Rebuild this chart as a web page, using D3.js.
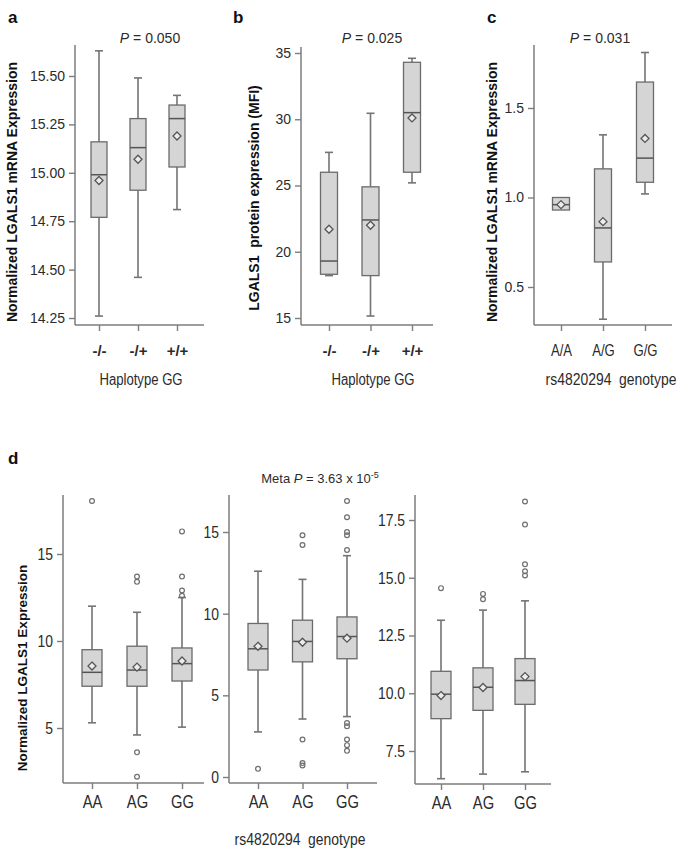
<!DOCTYPE html>
<html><head><meta charset="utf-8">
<script src="https://cdn.jsdelivr.net/npm/d3@7"></script>
<style>body{margin:0;background:#fff;} svg{display:block;}</style>
</head><body>
<script>
// ---------------- DATA ----------------
const catsHaplo = ["-/-", "-/+", "+/+"];
const catsC = ["A/A", "A/G", "G/G"];
const catsD = ["AA", "AG", "GG"];
// each row: [whiskerLow, Q1, median, Q3, whiskerHigh, mean]
const statsA = [[14.26,14.77,14.99,15.16,15.63,14.96],[14.46,14.91,15.13,15.28,15.49,15.07],[14.81,15.03,15.28,15.35,15.40,15.19]];
const statsB = [[18.2,18.3,19.3,26.0,27.5,21.7],[15.15,18.2,22.4,24.9,30.45,22.0],[25.2,26.0,30.5,34.3,34.6,30.1]];
const statsC = [[0.93,0.93,0.96,1.0,1.0,0.96],[0.32,0.64,0.83,1.16,1.35,0.865],[1.02,1.085,1.22,1.645,1.81,1.33]];
const statsD1 = [[5.3,7.4,8.2,9.5,12.0,8.56],[4.6,7.4,8.33,9.7,11.65,8.5],[5.05,7.7,8.7,9.6,12.5,8.85]];
const outliersD1 = [[18.05],[13.7,13.4,3.6,2.2],[16.3,13.7,12.9,12.6]];
const statsD2 = [[2.76,6.55,7.85,9.4,12.6,8.0],[3.55,7.05,8.3,9.6,12.1,8.25],[3.7,7.24,8.6,9.8,13.55,8.5]];
const outliersD2 = [[0.5],[14.8,14.2,2.3,0.85,0.7],[16.9,15.9,15.0,14.8,13.9,3.3,3.1,2.3,1.95,1.6]];
const statsD3 = [[6.3,8.9,9.96,10.95,13.16,9.9],[6.5,9.26,10.26,11.1,13.6,10.25],[6.6,9.52,10.55,11.5,14.0,10.72]];
const outliersD3 = [[14.55],[14.3,14.07],[18.3,17.3,15.58,15.28,15.1]];
const ticksA = [14.25,14.5,14.75,15.0,15.25,15.5];
const ticksB = [15,20,25,30,35];
const ticksC = [0.5,1.0,1.5];
const ticksD1 = [5,10,15];
const ticksD2 = [0,5,10,15];
const ticksD3 = [7.5,10,12.5,15,17.5];
const pValues = ["0.050","0.025","0.031"];
// ---------------------------------------

const W = 685, H = 851;
const svg = d3.select("body").append("svg").attr("width", W).attr("height", H);
const axisColor = "#7d7d7d", textColor = "#2b2b2b";
const SANS = "'Liberation Sans', Arial, sans-serif";

// detect narrow font
const probe1 = svg.append("text").style("font-family","'Liberation Sans Narrow', monospace").style("font-size","20px").text("Haplotype GG");
const probe2 = svg.append("text").style("font-family","monospace").style("font-size","20px").text("Haplotype GG");
const hasNarrow = Math.abs(probe1.node().getComputedTextLength() - probe2.node().getComputedTextLength()) > 0.5;
probe1.remove(); probe2.remove();
const NARROW = hasNarrow ? "'Liberation Sans Narrow', sans-serif" : SANS;
const narrowScale = hasNarrow ? 1 : 0.82;

function narrowText(sel) {
  sel.style("font-family", NARROW);
  if (narrowScale !== 1) {
    sel.each(function(){
      const t = d3.select(this);
      const x = +t.attr("x") || 0;
      t.attr("transform", `translate(${x*(1-narrowScale)},0) scale(${narrowScale},1)`);
    });
  }
  return sel;
}

function panel(cfg) {
  const g = svg.append("g");
  const y = d3.scaleLinear().domain(cfg.anchorV).range(cfg.anchorY);
  const x = d3.scalePoint().domain(cfg.cats).range(cfg.xRange);

  // y axis
  const ay = g.append("g").attr("transform", `translate(${cfg.axisX},0)`)
    .call(d3.axisLeft(y).tickValues(cfg.ticks).tickFormat(d3.format(cfg.fmt)).tickSize(6).tickPadding(4));
  ay.select(".domain").remove();
  ay.selectAll("line").attr("stroke", axisColor).attr("stroke-width", 1.4);
  const yt = ay.selectAll("text").attr("fill", textColor).style("font-size", cfg.yTickSize + "px");
  if (cfg.yTickNarrow) narrowText(yt.style("font-weight", "normal")); else yt.style("font-family", SANS);
  g.append("line").attr("x1", cfg.axisX).attr("x2", cfg.axisX).attr("y1", cfg.top).attr("y2", cfg.bottom)
    .attr("stroke", axisColor).attr("stroke-width", 1.5);

  // x axis
  const ax = g.append("g").attr("transform", `translate(0,${cfg.bottom})`)
    .call(d3.axisBottom(x).tickSize(6).tickPadding(cfg.xPad));
  ax.select(".domain").remove();
  ax.selectAll("line").attr("stroke", axisColor).attr("stroke-width", 1.4);
  const xt = ax.selectAll("text").attr("fill", textColor).style("font-size", cfg.xTickSize + "px")
    .style("font-weight", cfg.xTickBold ? "bold" : "normal");
  if (cfg.xTickNarrow) narrowText(xt); else xt.style("font-family", SANS);
  g.append("line").attr("x1", cfg.axisX).attr("x2", cfg.xEnd).attr("y1", cfg.bottom).attr("y2", cfg.bottom)
    .attr("stroke", axisColor).attr("stroke-width", 1.5);

  const bw = cfg.boxW, cw = 8;
  cfg.stats.forEach((s, i) => {
    const cx = x(cfg.cats[i]);
    const [lo, q1, med, q3, hi, mean] = s;
    const wl = { stroke: "#747474", "stroke-width": 1.6 };
    const line = (x1, y1, x2, y2, st) => {
      const l = g.append("line").attr("x1", x1).attr("y1", y1).attr("x2", x2).attr("y2", y2);
      Object.entries(st).forEach(([k, v]) => l.attr(k, v));
    };
    if (hi > q3) { line(cx, y(q3), cx, y(hi), wl); line(cx - cw/2, y(hi), cx + cw/2, y(hi), wl); }
    if (lo < q1) { line(cx, y(q1), cx, y(lo), wl); line(cx - cw/2, y(lo), cx + cw/2, y(lo), wl); }
    g.append("rect").attr("x", cx - bw/2).attr("y", y(q3)).attr("width", bw).attr("height", Math.max(1, y(q1) - y(q3)))
      .attr("fill", "#d5d5d5").attr("stroke", "#6b6b6b").attr("stroke-width", 1.3);
    line(cx - bw/2, y(med), cx + bw/2, y(med), { stroke: "#555", "stroke-width": 1.5 });
    const d = 4;
    const my = y(mean);
    g.append("path").attr("d", `M${cx},${my-d}L${cx+d},${my}L${cx},${my+d}L${cx-d},${my}Z`)
      .attr("fill", "#ececec").attr("stroke", "#555").attr("stroke-width", 1.3);
    if (cfg.outliers) {
      cfg.outliers[i].forEach(v => {
        g.append("circle").attr("cx", cx).attr("cy", y(v)).attr("r", 2.4)
          .attr("fill", "none").attr("stroke", "#6f6f6f").attr("stroke-width", 1.2);
      });
    }
  });
  return { x, y };
}

// Panel a
panel({ cats: catsHaplo, stats: statsA, ticks: ticksA, fmt: ".2f", anchorV: [14.25, 15.5], anchorY: [318, 76],
  axisX: 75, top: 45, bottom: 325, xEnd: 204, xRange: [99, 177], boxW: 16, yTickSize: 14, xTickSize: 15, xTickBold: true, xPad: 14 });
// Panel b
panel({ cats: catsHaplo, stats: statsB, ticks: ticksB, fmt: "d", anchorV: [15, 35], anchorY: [318, 53],
  axisX: 301, top: 47, bottom: 325, xEnd: 433, xRange: [329, 412], boxW: 17, yTickSize: 14, xTickSize: 15, xTickBold: true, xPad: 14 });
// Panel c
panel({ cats: catsC, stats: statsC, ticks: ticksC, fmt: ".1f", anchorV: [0.5, 1.5], anchorY: [287, 108],
  axisX: 534, top: 45, bottom: 325, xEnd: 672, xRange: [561, 645], boxW: 17, yTickSize: 14, xTickSize: 16, xTickNarrow: true, xPad: 14 });
// Panel d
panel({ cats: catsD, stats: statsD1, outliers: outliersD1, ticks: ticksD1, fmt: "d", anchorV: [5, 15], anchorY: [728, 554],
  axisX: 63, top: 495, bottom: 783, xEnd: 204, xRange: [92, 182], boxW: 20, yTickSize: 17, yTickNarrow: true, xTickSize: 18, xTickNarrow: true, xPad: 6 });
panel({ cats: catsD, stats: statsD2, outliers: outliersD2, ticks: ticksD2, fmt: "d", anchorV: [0, 15], anchorY: [777, 532],
  axisX: 229, top: 495, bottom: 783, xEnd: 377, xRange: [258, 347], boxW: 20, yTickSize: 17, yTickNarrow: true, xTickSize: 18, xTickNarrow: true, xPad: 6 });
panel({ cats: catsD, stats: statsD3, outliers: outliersD3, ticks: ticksD3, fmt: ".1f", anchorV: [7.5, 17.5], anchorY: [751, 520],
  axisX: 415, top: 495, bottom: 784, xEnd: 551, xRange: [441, 525], boxW: 20, yTickSize: 17, yTickNarrow: true, xTickSize: 18, xTickNarrow: true, xPad: 6 });

// Panel letters
[["a", 8, 23], ["b", 233, 23], ["c", 487, 23], ["d", 8, 464]].forEach(([t, x, y]) => {
  svg.append("text").attr("x", x).attr("y", y).text(t).attr("fill", "#111")
    .style("font-family", SANS).style("font-weight", "bold").style("font-size", "17px");
});

// P value titles
[[150, pValues[0]], [372, pValues[1]], [600, pValues[2]]].forEach(([cx, v]) => {
  const t = svg.append("text").attr("x", cx).attr("y", 43).attr("text-anchor", "middle").attr("fill", textColor)
    .style("font-family", SANS).style("font-size", "14px");
  t.append("tspan").style("font-style", "italic").text("P");
  t.append("tspan").text(" = " + v);
});
// Meta P
{
  const t = svg.append("text").attr("x", 320).attr("y", 483).attr("text-anchor", "middle").attr("fill", textColor)
    .style("font-family", SANS).style("font-size", "13px");
  t.append("tspan").text("Meta ");
  t.append("tspan").style("font-style", "italic").text("P");
  t.append("tspan").text(" = 3.63 x 10");
  t.append("tspan").attr("dy", -5).style("font-size", "9px").text("-5");
}

// Y titles
[["Normalized LGALS1 mRNA Expression", 17, 192, 14], ["LGALS1  protein expression (MFI)", 259, 198, 14],
 ["Normalized LGALS1 mRNA Expression", 497, 192, 14], ["Normalized LGALS1 Expression", 27, 668, 13.5]].forEach(([t, x, y, fs]) => {
  svg.append("text").attr("transform", `translate(${x},${y}) rotate(-90)`).attr("text-anchor", "middle")
    .attr("fill", "#111").style("font-family", SANS).style("font-weight", "bold").style("font-size", fs + "px")
    .style("white-space", "pre").text(t);
});

// X titles
[["Haplotype GG", 141, 385, 16], ["Haplotype GG", 373, 385, 16], ["rs4820294  genotype", 611, 385, 17], ["rs4820294  genotype", 300, 845, 17]].forEach(([t, x, y, fs]) => {
  const tx = svg.append("text").attr("x", x).attr("y", y).attr("text-anchor", "middle").attr("fill", textColor)
    .style("font-size", fs + "px").style("white-space", "pre").text(t);
  if (hasNarrow) tx.style("font-family", NARROW);
  else tx.style("font-family", SANS).attr("transform", `translate(${x*(1-narrowScale)},0) scale(${narrowScale},1)`);
});
</script>
</body></html>
